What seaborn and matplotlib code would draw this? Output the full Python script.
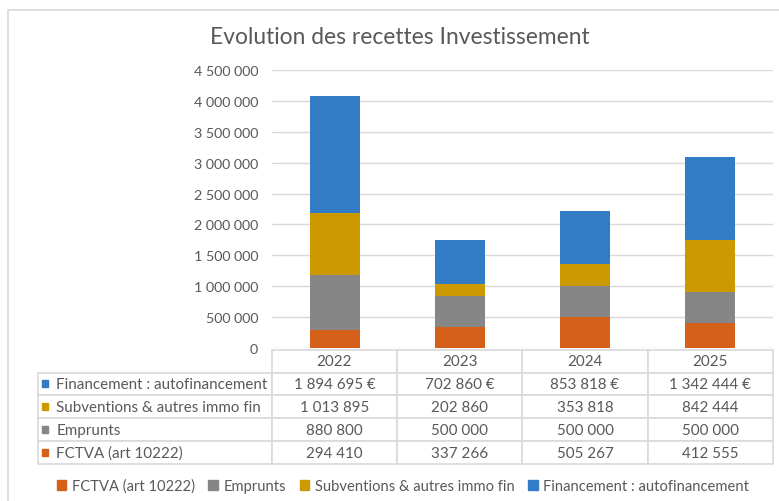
import numpy as np
import pandas as pd
import matplotlib
matplotlib.use("Agg")
import matplotlib.pyplot as plt
import seaborn as sns
from matplotlib.patches import Rectangle, Patch
from matplotlib.ticker import FuncFormatter

annees = ["2022", "2023", "2024", "2025"]
fctva = [294410, 337266, 505267, 412555]
emprunts = [880800, 500000, 500000, 500000]
subventions = [1013895, 202860, 353818, 842444]
autofinancement = [1894695, 702860, 853818, 1342444]

series = ["FCTVA (art 10222)", "Emprunts", "Subventions & autres immo fin",
          "Financement : autofinancement"]
couleurs = ["#D4601A", "#868686", "#CC9A00", "#317CC4"]
graduations = [0, 500000, 1000000, 1500000, 2000000, 2500000, 3000000, 3500000, 4000000, 4500000]

sns.set_style("white")
plt.rcParams["font.family"] = ["Lato", "DejaVu Sans"]
gris = "#595959"
trait = "#D9D9D9"


def espace(v):
    return f"{int(v):,}".replace(",", " ")


df = pd.DataFrame({"annee": annees, series[0]: fctva, series[1]: emprunts,
                   series[2]: subventions, series[3]: autofinancement})

fig = plt.figure(figsize=(7.79, 5.02), dpi=100)
W, H = 779, 502
ax = fig.add_axes([272 / W, 1 - 349 / H, 501 / W, 278 / H])

# barres empilees
bas = np.zeros(len(annees))
for nom, c in zip(series, couleurs):
    sns.barplot(data=df, x="annee", y=nom, color=c, saturation=1, width=0.4,
                errorbar=None, bottom=bas, ax=ax, linewidth=0)
    bas = bas + df[nom].values

ax.set_ylim(0, 4500000)
ax.set_yticks(graduations)
ax.yaxis.set_major_formatter(FuncFormatter(lambda v, p: espace(v)))
ax.tick_params(axis="y", length=0, pad=10, labelcolor=gris, labelsize=10.3)
ax.set_xticks([])
ax.set_xlabel("")
ax.set_ylabel("")
ax.set_axisbelow(True)
ax.grid(axis="y", color=trait, lw=1)
for s in ax.spines.values():
    s.set_visible(False)

# tableau de donnees sous le graphique
lignes = series[::-1]
valeurs = [autofinancement, subventions, emprunts, fctva]
texte = []
for nom, v in zip(lignes, valeurs):
    suffixe = " €" if nom.startswith("Financement") else ""
    texte.append([nom] + [espace(x) + suffixe for x in v])

x0 = (37.7 - 272) / 501
y_haut = (349 - 350.7) / 278
y_bas = (349 - 465) / 278
tab = ax.table(cellText=texte, colLabels=[""] + annees,
               colWidths=[234, 125.3, 125.3, 125.3, 125.3],
               cellLoc="center", bbox=[x0, y_bas, 1 - x0, y_haut - y_bas])
tab.auto_set_font_size(False)
tab.set_fontsize(10.9)
for (r, c), cell in tab.get_celld().items():
    cell.set_edgecolor(trait)
    cell.set_linewidth(1.2)
    cell.get_text().set_color(gris)
    if c == 0:
        cell.get_text().set_ha("left")
        cell._loc = "left"
        cell.PAD = 0.08
tab[0, 0].set_edgecolor("none")

# petits carres de couleur devant les libelles
haut_ligne = (y_haut - y_bas) / 5
for i, nom in enumerate(lignes):
    c = couleurs[series.index(nom)]
    yc = y_haut - haut_ligne * (i + 1.5)
    ax.add_patch(Rectangle(((41.5 - 272) / 501, yc - 3.5 / 278), 7 / 501, 7 / 278,
                           transform=ax.transAxes, color=c, clip_on=False))

# legende
poignees = [Patch(color=c) for c in couleurs]
fig.legend(poignees, series, loc="center", bbox_to_anchor=(403 / W, 1 - 487 / H),
           ncol=4, frameon=False, handlelength=0.65, handleheight=0.65,
           columnspacing=0.9, handletextpad=0.4, fontsize=10.6, labelcolor=gris)

fig.text(400 / W, 1 - 38 / H, "Evolution des recettes Investissement",
         ha="center", va="center", fontsize=16.4, color=gris)

# cadre du graphique
fig.add_artist(Rectangle((8 / W, -0.1), 1.2, 1 - 11 / H + 0.1, transform=fig.transFigure,
                         fill=False, edgecolor=trait, lw=1.2))

fig.savefig("out.png", dpi=100)
